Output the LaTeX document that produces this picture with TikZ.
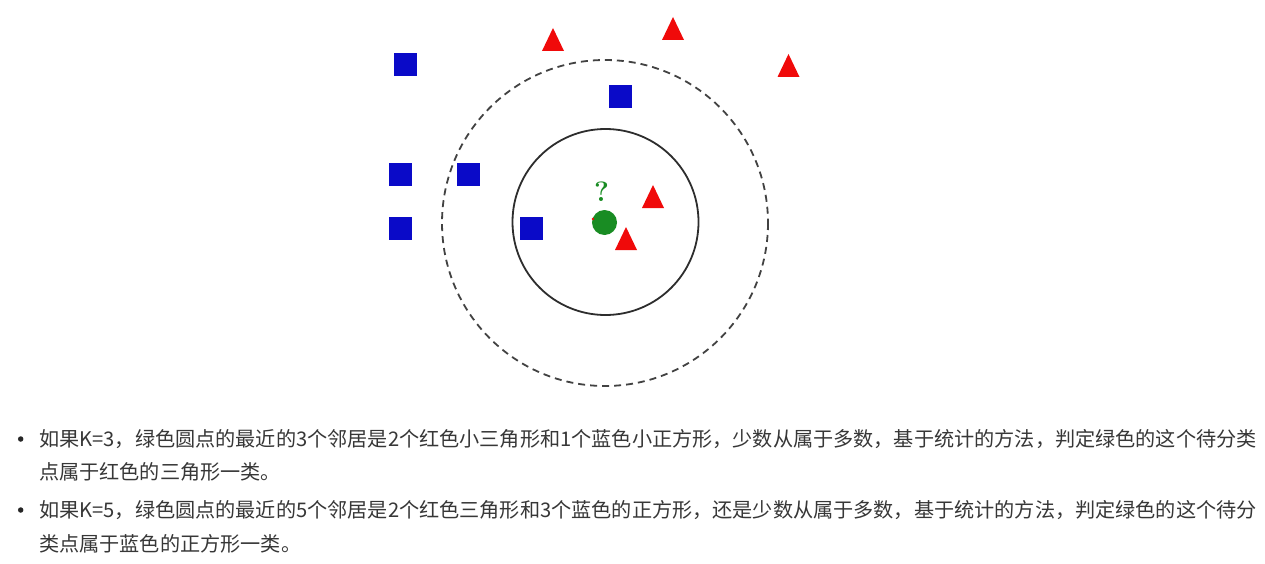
\documentclass[tikz,border=0pt]{standalone}
\usepackage{fontspec}
\newfontfamily\cjk{Noto Sans CJK SC}
\definecolor{sqblue}{RGB}{10,10,200}
\definecolor{trired}{RGB}{240,10,10}
\definecolor{dotgreen}{RGB}{25,140,35}
\definecolor{txtgray}{RGB}{55,55,55}
\definecolor{ringgray}{RGB}{45,45,45}
\begin{document}
\begin{tikzpicture}[x=1pt,y=-1pt,
  sq/.style={rectangle,fill=sqblue,minimum size=23pt,inner sep=0pt},
  tri/.style={fill=trired},
  ring/.style={draw=ringgray,line width=1.8pt},
  dashring/.style={draw=ringgray!90,line width=1.8pt,dash pattern=on 7pt off 5pt},
  txtline/.style={anchor=base west,inner sep=0pt,text=txtgray,font=\cjk\fontsize{20.15}{24}\selectfont},
  bullet/.style={circle,fill=black!85,minimum size=5.5pt,inner sep=0pt}]
\useasboundingbox (0,0) rectangle (1265,564);
\fill[white] (0,0) rectangle (1265,564);
% rings
\draw[dashring] (605,223) circle[radius=163];
\draw[ring] (605.5,222) circle[radius=93];
% blue squares
\node[sq] (s1) at (405.5,65) {};
\node[sq] (s2) at (620.5,97) {};
\node[sq] (s3) at (400.5,175) {};
\node[sq] (s4) at (468.5,175) {};
\node[sq] (s5) at (400.5,228) {};
\node[sq] (s6) at (531.5,228) {};
% red triangles
\fill[tri] (542,51) -- (564,51) -- (553,28) -- cycle;
\fill[tri] (662,40) -- (684,40) -- (673,17) -- cycle;
\fill[tri] (777.5,77) -- (799.5,77) -- (788.5,54) -- cycle;
\fill[tri] (642,208) -- (664,208) -- (653,185) -- cycle;
\fill[tri] (615,250) -- (637,250) -- (626,227) -- cycle;
% query point
\node[circle,fill=dotgreen,minimum size=25pt,inner sep=0pt] (g) at (604.5,222.5) {};
\fill[trired] (593,219) circle[radius=1.3];
\node[text=dotgreen,font=\bfseries\fontsize{28}{28}\selectfont,inner sep=0pt] (q) at (601.5,192) {?};
% text
\node[bullet] (b1) at (20.7,439) {};
\node[bullet] (b2) at (20.7,510) {};
\node[txtline] (l1) at (39,446.5) {如果K=3，绿色圆点的最近的3个邻居是2个红色小三角形和1个蓝色小正方形，少数从属于多数，基于统计的方法，判定绿色的这个待分类};
\node[txtline] (l2) at (39,479) {点属于红色的三角形一类。};
\node[txtline] (l3) at (39,517.5) {如果K=5，绿色圆点的最近的5个邻居是2个红色三角形和3个蓝色的正方形，还是少数从属于多数，基于统计的方法，判定绿色的这个待分};
\node[txtline] (l4) at (39,551) {类点属于蓝色的正方形一类。};
\end{tikzpicture}
\end{document}
